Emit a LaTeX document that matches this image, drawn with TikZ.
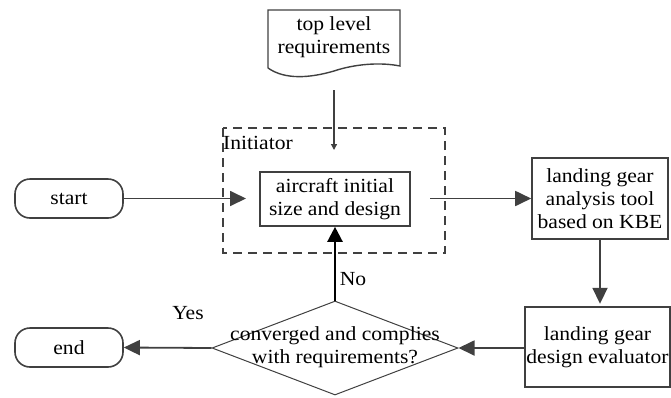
\documentclass[tikz,border=0pt]{standalone}
\usepackage{fontspec}
\setmainfont{Liberation Serif}[FakeStretch=1.08]
\usetikzlibrary{arrows.meta,shapes.geometric}

\definecolor{linegray}{HTML}{404040}

\tikzset{
  lbl/.style={font=\fontsize{20}{23}\selectfont, text=black, align=center, inner sep=0pt},
  procbox/.style={draw=linegray, line width=1.6pt, fill=white, inner sep=0pt, align=center,
                  font=\fontsize{20}{23}\selectfont},
  terminal/.style={procbox, rounded corners=15pt, minimum width=108pt, minimum height=39pt},
  flow/.style={draw=linegray, line width=1.8pt,
               -{Triangle[length=16pt,width=15pt]}, color=linegray},
  thinflow/.style={draw=linegray, line width=1.3pt, -{Triangle[length=6pt,width=6pt]}},
  backflow/.style={draw=black, line width=2.3pt, -{Triangle[length=15pt,width=15pt]}},
  groupbox/.style={draw=linegray, line width=1.6pt, dash pattern=on 9pt off 6pt},
}

\begin{document}
\begin{tikzpicture}[x=1pt, y=-1pt]
  \useasboundingbox (0,0) rectangle (671,397);
  \clip (0,0) rectangle (671,397);

  % requirements document with wavy lower edge
  \draw[draw=linegray, line width=1.4pt]
    (268,68) -- (268,10) -- (400,10) -- (400,66)
    .. controls (380,62) and (355,64) .. (334,71)
    .. controls (310,78) and (285,80) .. (268,68);
  \node[lbl] (req) at (334,37) {top level\\requirements};
  \coordinate (reqout) at (334,90);
  \coordinate (reqin) at (334,150);

  % initiator group
  \draw[groupbox] (223,128) rectangle (445,253);
  \node[lbl, anchor=west] (initlbl) at (223,143) {Initiator};

  % process steps
  \node[procbox, minimum width=150pt, minimum height=54pt] (init) at (335,199)
    {aircraft initial\\size and design};
  \node[procbox, minimum width=136pt, minimum height=81pt] (tool) at (600,198.5)
    {landing gear\\analysis tool\\based on KBE};
  \node[procbox, minimum width=145pt, minimum height=80pt] (eval) at (597.5,347)
    {landing gear\\design evaluator};

  % terminals
  \node[terminal] (start) at (69,198.5) {start};
  \node[terminal] (end) at (69,347.5) {end};

  % decision
  \node[draw=linegray, line width=1pt, shape=diamond, inner sep=0pt,
        minimum width=246pt, minimum height=94pt] (dec) at (335,348) {};
  \node[lbl] (dectext) at (335,347.5) {converged and complies\\with requirements?};

  % free ends of the connectors
  \coordinate (initin) at (246,198.5);
  \coordinate (initout) at (430,198.5);

  % connectors
  \draw[thinflow] (reqout) -- (reqin);
  \draw[flow] (start.east) -- (initin);
  \draw[flow] (initout) -- (tool.west);
  \draw[flow] (tool.south) -- ++(0,64);
  \draw[flow] (eval.west |- dec.east) -- (dec.east);
  \draw[flow] (dec.west) -- (end.east);
  \draw[backflow] (dec.north) -- (init.south);

  % branch labels
  \node[lbl] (nolbl) at (353,279) {No};
  \node[lbl] (yeslbl) at (188,313) {Yes};
\end{tikzpicture}
\end{document}
